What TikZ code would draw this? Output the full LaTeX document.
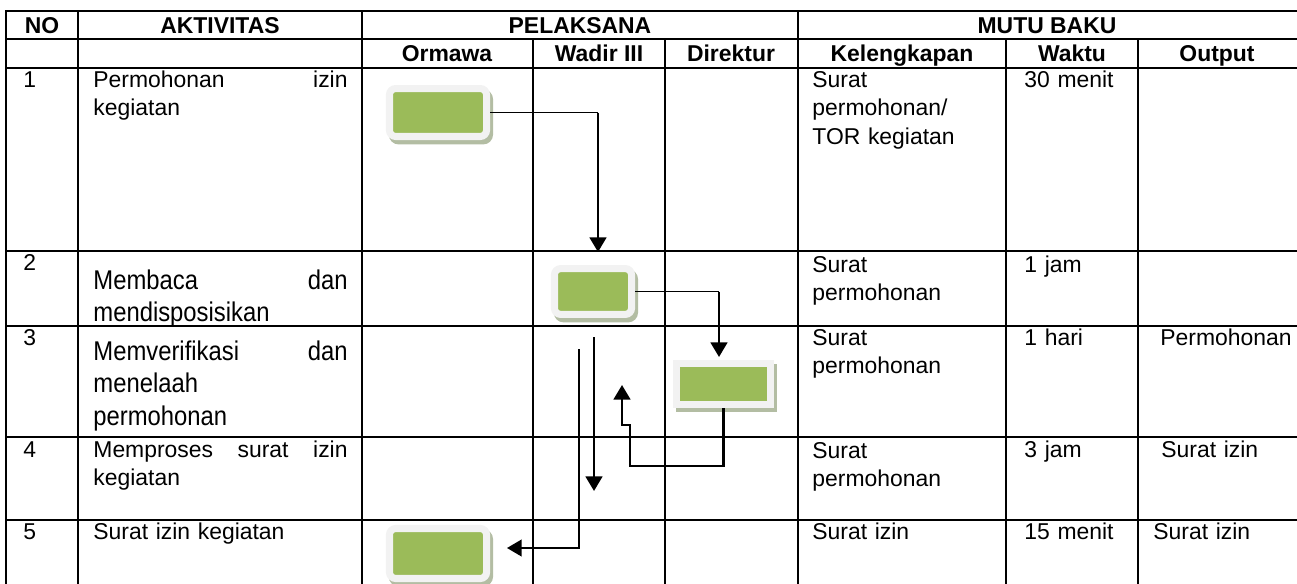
\documentclass[tikz,border=0pt]{standalone}
\usepackage{fontspec}
\setmainfont{Liberation Sans}
\newfontfamily\narrowfont[FakeStretch=0.88]{Liberation Sans}
\usetikzlibrary{arrows.meta,shadows}
\definecolor{taskgreen}{HTML}{9BBB59}
\definecolor{taskrim}{HTML}{F2F2F2}
\definecolor{taskshade}{HTML}{B3BDA3}

\begin{document}
\begin{tikzpicture}[x=0.48pt,y=-0.48pt,
  tline/.style={line width=1pt,line cap=rect},
  head/.style={font=\fontsize{11pt}{13.7pt}\selectfont\bfseries,anchor=base,inner sep=0pt},
  cell/.style={font=\fontsize{11pt}{13.7pt}\selectfont,anchor=base west,inner sep=0pt,align=left,text width=92pt},
  bigcell/.style={font=\narrowfont\fontsize{13pt}{15.8pt}\selectfont,anchor=base west,inner sep=0pt,align=left,text width=122pt},
  task/.style={fill=taskgreen,draw=taskrim,line width=3.4pt,inner sep=0pt,rounded corners=3pt,
    drop shadow={fill=taskshade,draw=taskshade,line width=3.4pt,opacity=1,shadow xshift=1.4pt,shadow yshift=-2.1pt}},
  taskflat/.style={task,sharp corners},
  arr/.style={-{Triangle[length=7pt,width=8pt]},line width=1.2pt},
  arrthin/.style={line width=0.7pt},
  arrmid/.style={-{Triangle[length=7pt,width=8pt]},line width=0.9pt}
]
\useasboundingbox (0,0) rectangle (1297,584);

% table
\foreach \y in {11,39,68,251,326,437,520}
  \draw[tline] (6,\y) -- (1297,\y);
\foreach \x in {6,78,362,798}
  \draw[tline] (\x,11) -- (\x,584);
\foreach \x in {533,665,1006,1138}
  \draw[tline] (\x,39) -- (\x,584);

\node[head] (hno) at (42,33) {NO};
\node[head] (hakt) at (220,33) {AKTIVITAS};
\node[head] (hpel) at (580,33) {PELAKSANA};
\node[head] (hmutu) at (1047,33) {MUTU BAKU};
\node[head] (horm) at (447,61) {Ormawa};
\node[head] (hwadir) at (599,61) {Wadir III};
\node[head] (hdir) at (731,61) {Direktur};
\node[head] (hkel) at (902,61) {Kelengkapan};
\node[head] (hwaktu) at (1072,61) {Waktu};
\node[head] (hout) at (1217,61) {Output};

% row 1
\node[cell] (no1) at (23,87) {1};
\node[cell,text width=122pt] (akt1) at (93,87) {Permohonan\hfill izin\\kegiatan};
\node[cell] (kel1) at (812,87) {Surat\\permohonan/\\TOR kegiatan};
\node[cell] (wkt1) at (1024,87) {30 menit};
% row 2
\node[cell] (no2) at (23,270) {2};
\node[bigcell] (akt2) at (93,289) {Membaca\hfill dan\\mendisposisikan};
\node[cell] (kel2) at (812,272) {Surat\\permohonan};
\node[cell] (wkt2) at (1024,272) {1 jam};
% row 3
\node[cell] (no3) at (23,345) {3};
\node[bigcell] (akt3) at (93,360) {Memverifikasi\hfill dan\\menelaah\\permohonan};
\node[cell] (kel3) at (812,345) {Surat\\permohonan};
\node[cell] (wkt3) at (1024,345) {1 hari};
\node[cell] (out3) at (1160,345) {Permohonan};
% row 4
\node[cell] (no4) at (23,457) {4};
\node[cell,text width=122pt] (akt4) at (93,457) {Memproses\hfill surat\hfill izin\\kegiatan};
\node[cell] (kel4) at (812,458) {Surat\\permohonan};
\node[cell] (wkt4) at (1024,457) {3 jam};
\node[cell] (out4) at (1161,457) {Surat izin};
% row 5
\node[cell] (no5) at (23,539) {5};
\node[cell] (akt5) at (93,539) {Surat izin kegiatan};
\node[cell] (kel5) at (812,539) {Surat izin};
\node[cell] (wkt5) at (1024,539) {15 menit};
\node[cell] (out5) at (1153,539) {Surat izin};

% flow
\node[task,minimum width=46.6pt,minimum height=23pt] (b1) at (438,112.5) {};
\node[task,minimum width=37pt,minimum height=22pt] (b2) at (593,291.5) {};
\node[taskflat,minimum width=45pt,minimum height=19.7pt] (b3) at (723.5,384) {};
\node[task,minimum width=46.6pt,minimum height=24pt] (b5) at (438,553.5) {};

\coordinate (a1turn) at (598,112.5);
\coordinate (a1end) at (598,252);
\coordinate (a2turn) at (719,291.5);
\coordinate (a2end) at (719,357);
\coordinate (a3p) at (630,466);
\coordinate (a3q) at (622,425);
\coordinate (a3end) at (622,385);
\coordinate (a4top) at (594,337);
\coordinate (a4end) at (594,491);
\coordinate (a5top) at (579,349);
\coordinate (a5end) at (507,548);

\draw[arrthin] (b1.east) -- (a1turn);
\draw[arr] (a1turn) -- (a1end);
\draw[arrthin] (b2.east) -- (a2turn);
\draw[arr] (a2turn) -- (a2end);
\draw[arr] (b3.south) |- (a3p) |- (a3q) -- (a3end);
\draw[arr] (a4top) -- (a4end);
\draw[arrmid] (a5top) |- (a5end);
\end{tikzpicture}
\end{document}
